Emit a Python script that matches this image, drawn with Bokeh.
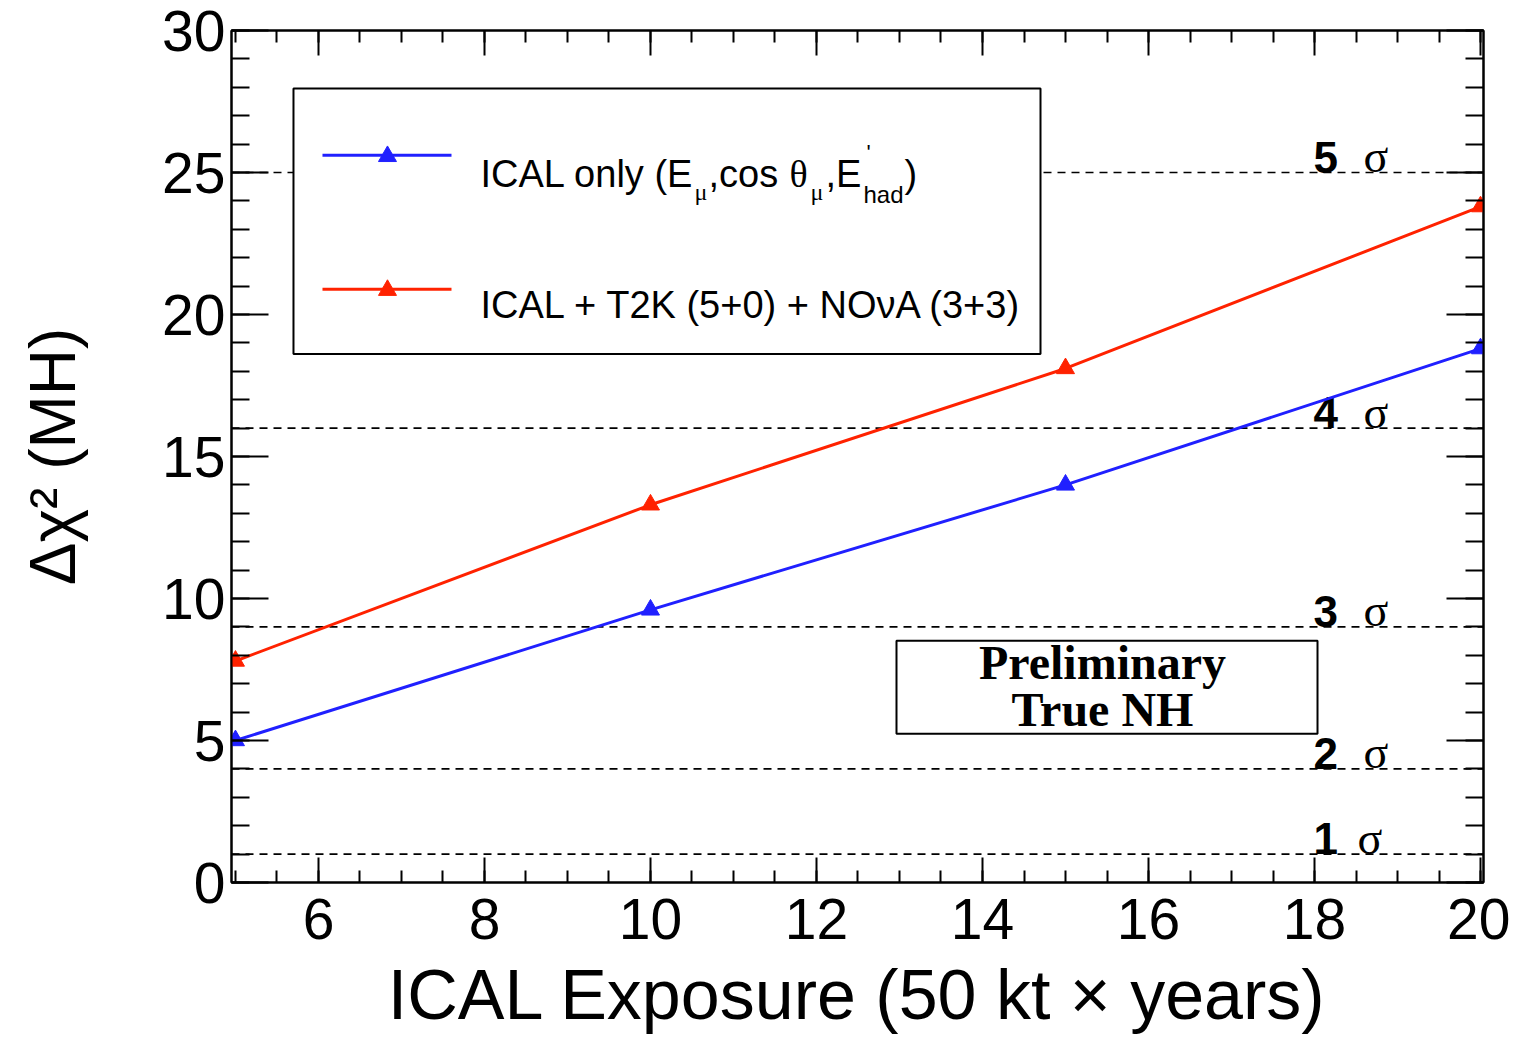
from bokeh.plotting import figure
from bokeh.models import LinearAxis, FixedTicker, Range1d, Span
from bokeh.core.properties import value
from bokeh.embed import file_html
from bokeh.resources import INLINE

# ---- data ----
exposure = [5, 10, 15, 20]
ical_only = [5.0, 9.6, 14.0, 18.8]
ical_t2k_nova = [7.8, 13.3, 18.1, 23.8]
sigma_levels = [1, 2, 3, 4, 5]
x_major_ticks = [6, 8, 10, 12, 14, 16, 18, 20]
y_major_ticks = [0, 5, 10, 15, 20, 25, 30]
series_labels = ["ICAL only", "ICAL + T2K (5+0) + NO\u03bdA (3+3)"]

X0, X1 = 4.952, 20.036
Y0, Y1 = 0, 30

SANS = "Liberation Sans"
SERIF = "Liberation Serif"
BLUE = "#2020ff"
RED = "#ff2200"

p = figure(width=1510, height=1036, x_range=Range1d(X0, X1), y_range=Range1d(Y0, Y1),
           output_backend="svg", toolbar_location=None,
           min_border_left=231, min_border_right=27, min_border_top=30, min_border_bottom=153)
p.grid.visible = False
p.outline_line_color = "black"
p.outline_line_width = 2
p.background_fill_color = "white"
p.border_fill_color = "white"

x_minor = [5 + 0.5 * i for i in range(31)]
y_minor = list(range(0, 31))


def style_axis(ax, major, minor, tin, mtin, show_labels=True):
    ax.ticker = FixedTicker(ticks=major, minor_ticks=minor)
    ax.major_tick_in = tin
    ax.major_tick_out = 0
    ax.minor_tick_in = mtin
    ax.minor_tick_out = 0
    ax.axis_line_width = 2
    ax.axis_line_color = "black"
    ax.major_tick_line_width = 2
    ax.minor_tick_line_width = 2
    ax.major_tick_line_color = "black"
    ax.minor_tick_line_color = "black"
    ax.major_label_text_font = SANS
    if show_labels:
        ax.major_label_text_font_size = "57px"
        ax.major_label_text_color = "black"
    else:
        ax.major_label_text_font_size = "1px"
        ax.major_label_text_color = None
        ax.major_label_text_alpha = 0
        ax.major_label_standoff = 0


xa = p.xaxis[0]
ya = p.yaxis[0]
style_axis(xa, x_major_ticks, x_minor, 25, 12)
style_axis(ya, y_major_ticks, y_minor, 37, 18)
xa.major_label_standoff = 16
ya.major_label_standoff = 6
xa.axis_label = "ICAL Exposure (50 kt \u00d7 years)"
xa.axis_label_text_font = SANS
xa.axis_label_text_font_size = "70px"
xa.axis_label_text_font_style = "normal"
xa.axis_label_text_color = "black"
xa.axis_label_standoff = 14
ya.axis_label = "\u0394\u03c7\u00b2 (MH)"
ya.axis_label_text_font = SANS
ya.axis_label_text_font_size = "64px"
ya.axis_label_text_font_style = "normal"
ya.axis_label_text_color = "black"
ya.axis_label_standoff = 70

top = LinearAxis()
style_axis(top, x_major_ticks, x_minor, 25, 12, show_labels=False)
p.add_layout(top, "above")
right = LinearAxis()
style_axis(right, y_major_ticks, y_minor, 37, 18, show_labels=False)
p.add_layout(right, "right")

# sigma reference lines
for s in sigma_levels:
    p.add_layout(Span(location=s ** 2, dimension="width", line_color="black",
                      line_width=1.6, line_dash="8 6", level="underlay"))

PX_PER_X = 83.0
PX_PER_Y = 28.433


def fx(px):
    return 5 + (px - 235) / PX_PER_X


def fy(py):
    return (883 - py) / PX_PER_Y


def fb(baseline_py, fs):
    # text is rendered centred on y; shift so that the baseline lands where wanted
    return fy(baseline_py - 0.35 * fs)


# sigma labels
DIG_FS, SIG_FS = 44, 46
p.text(x=[fx(1313)] * len(sigma_levels),
       y=[s ** 2 + 0.35 * DIG_FS / PX_PER_Y for s in sigma_levels],
       text=[str(s) for s in sigma_levels], text_font=value(SANS), text_font_style="bold",
       text_font_size=value(f"{DIG_FS}px"), text_color="black", text_align="left",
       text_baseline="alphabetic")
p.text(x=[fx(1357 if s == 1 else 1363) for s in sigma_levels],
       y=[s ** 2 + 0.35 * SIG_FS / PX_PER_Y for s in sigma_levels],
       text=["\u03c3"] * len(sigma_levels), text_font=value(SERIF),
       text_font_size=value(f"{SIG_FS}px"), text_color="black", text_align="left",
       text_baseline="alphabetic")

# legend box
p.quad(left=[fx(293)], right=[fx(1040)], bottom=[fy(354)], top=[fy(88)],
       fill_color="white", line_color="black", line_width=2)
p.line(x=[fx(322), fx(451)], y=[fy(155), fy(155)], line_color=BLUE, line_width=3)
p.scatter(x=[fx(387)], y=[fy(156)], marker="triangle", size=18, fill_color=BLUE, line_color=BLUE)
p.line(x=[fx(322), fx(451)], y=[fy(289), fy(289)], line_color=RED, line_width=3)
p.scatter(x=[fx(387)], y=[fy(290)], marker="triangle", size=18, fill_color=RED, line_color=RED)

pieces = [
    (series_labels[0] + " (E", 480, 187, 38, SANS),
    ("\u03bc", 694, 200, 24, SERIF),
    (",cos ", 708, 187, 38, SANS),
    ("\u03b8", 789, 187, 38, SERIF),
    ("\u03bc", 810, 200, 24, SERIF),
    (",E", 825, 187, 38, SANS),
    ("'", 866, 160, 22, SANS),
    ("had", 863, 203, 24, SANS),
    (")", 904, 187, 38, SANS),
    (series_labels[1], 480, 318, 38, SANS),
]
for t, px, py, fs, fnt in pieces:
    p.text(x=[fx(px)], y=[fb(py, fs)], text=[t], text_font=value(fnt),
           text_font_size=value(f"{fs}px"),
           text_color="black", text_align="left", text_baseline="alphabetic")

# data series
p.line(exposure, ical_only, line_color=BLUE, line_width=3)
p.scatter(exposure, ical_only, marker="triangle", size=18, fill_color=BLUE, line_color=BLUE)
p.line(exposure, ical_t2k_nova, line_color=RED, line_width=3)
p.scatter(exposure, ical_t2k_nova, marker="triangle", size=18, fill_color=RED, line_color=RED)

# Preliminary box
PFS = 48
p.quad(left=[fx(896)], right=[fx(1317)], bottom=[fy(734)], top=[fy(641)],
       fill_color="white", line_color="black", line_width=2)
p.text(x=[fx(1102), fx(1102)], y=[fb(680, PFS), fb(727, PFS)], text=["Preliminary", "True NH"],
       text_font=value(SERIF), text_font_style="bold", text_font_size=value(f"{PFS}px"),
       text_color="black", text_align="center", text_baseline="alphabetic")

open("out.html", "w").write(file_html(p, INLINE))
